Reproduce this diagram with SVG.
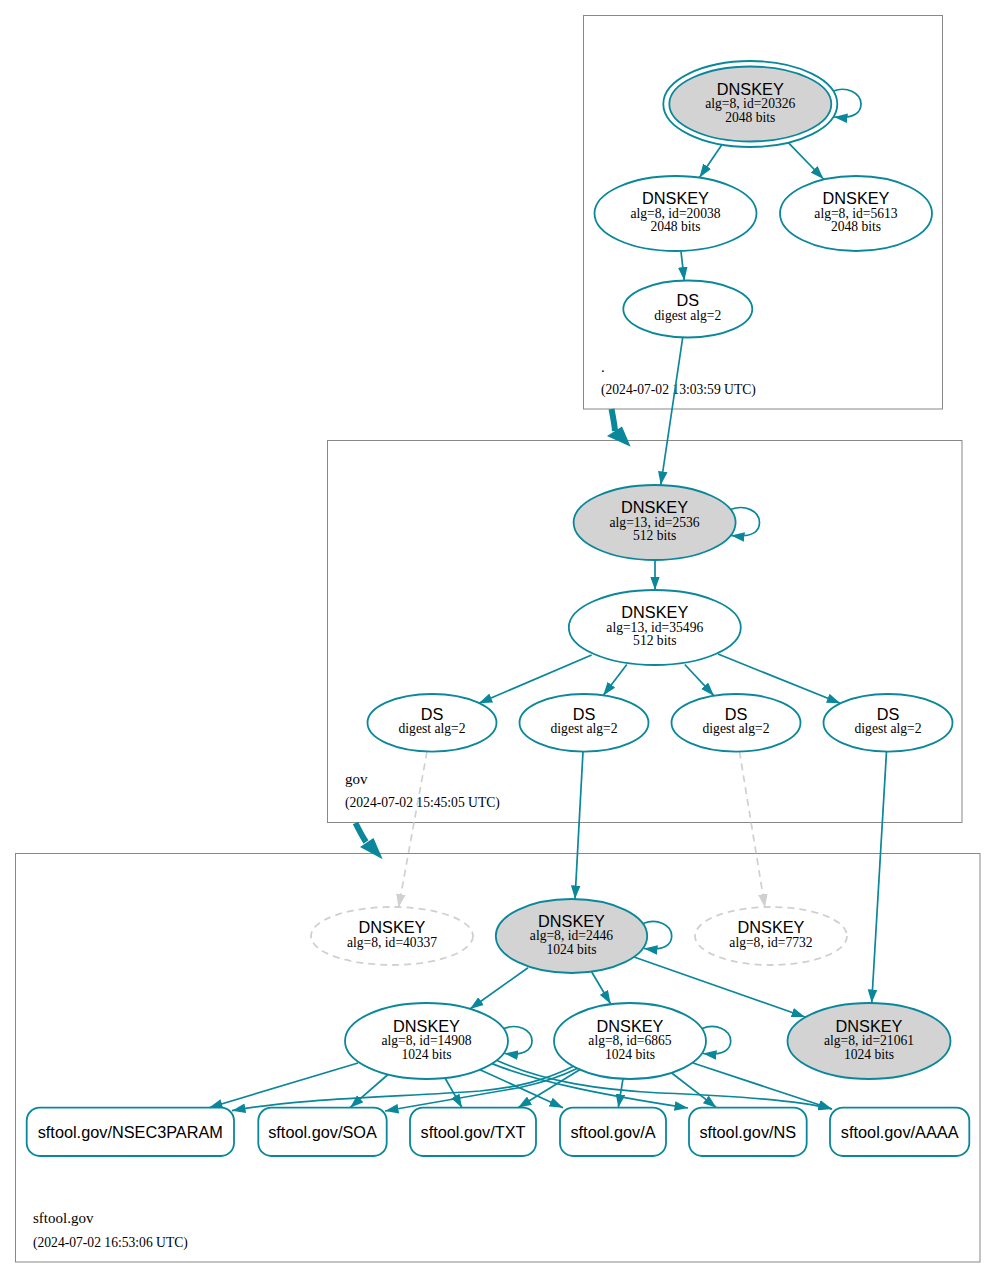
<svg xmlns="http://www.w3.org/2000/svg" width="996" height="1278" viewBox="0 0 996 1278">
<style>
.cl{fill:none;stroke:#888;stroke-width:1}
.n{fill:#fff;stroke:#0a879a;stroke-width:1.8}
.g{fill:#d3d3d3;stroke:#0a879a;stroke-width:1.8}
.d{fill:none;stroke:#d0d0d0;stroke-width:1.8;stroke-dasharray:7,5}
.e{fill:none;stroke:#0a879a;stroke-width:1.7;marker-end:url(#a)}
.ed{fill:none;stroke:#d0d0d0;stroke-width:1.7;stroke-dasharray:7,5;marker-end:url(#ag)}
.big{fill:none;stroke:#0a879a;stroke-width:6}
.t1{font-family:"Liberation Sans",Arial,sans-serif;font-size:16.3px;text-anchor:middle;fill:#000}
.t2{font-family:"Liberation Serif","Times New Roman",serif;font-size:13.6px;text-anchor:middle;fill:#000}
.cn{font-family:"Liberation Serif","Times New Roman",serif;font-size:15px;fill:#000}
.ct{font-family:"Liberation Serif","Times New Roman",serif;font-size:13.6px;fill:#000}
</style>
<defs>
<marker id="a" markerUnits="userSpaceOnUse" markerWidth="14" markerHeight="10" viewBox="0 0 14 10" refX="13.5" refY="5" orient="auto"><path d="M0,0.2 L13.5,5 L0,9.8 z" fill="#0a879a"/></marker>
<marker id="ag" markerUnits="userSpaceOnUse" markerWidth="14" markerHeight="10" viewBox="0 0 14 10" refX="13.5" refY="5" orient="auto"><path d="M0,0.2 L13.5,5 L0,9.8 z" fill="#d0d0d0"/></marker>
</defs>
<rect width="996" height="1278" fill="#fff"/>

<g id="cluster-root">
<rect class="cl" x="583.5" y="15.5" width="359" height="393.5"/>
<text class="cn" x="601" y="372">.</text>
<text class="ct" x="601" y="394">(2024-07-02 13:03:59 UTC)</text>
</g>
<g id="cluster-gov">
<rect class="cl" x="327.5" y="440.5" width="634.5" height="382"/>
<text class="cn" x="345" y="784">gov</text>
<text class="ct" x="345" y="807">(2024-07-02 15:45:05 UTC)</text>
</g>
<g id="cluster-sftool">
<rect class="cl" x="15.5" y="853.5" width="964.5" height="408.5"/>
<text class="cn" x="33" y="1223">sftool.gov</text>
<text class="ct" x="33" y="1247">(2024-07-02 16:53:06 UTC)</text>
</g>

<g id="connectors">
<path class="big" d="M611.5,409 C613,417 614.5,424 615,431"/>
<polygon points="607,436 622,426.5 630.7,446.7" fill="#0a879a"/>
<path class="big" d="M355.5,823 C359,830 362,836 366,842"/>
<polygon points="360,847 373.5,838 382.7,859.3" fill="#0a879a"/>

<path class="e" d="M721.7,145 L699.5,177.5"/>
<path class="e" d="M788.3,142.7 L823.5,179"/>
<path class="e" d="M681,251.5 L684.3,280.5"/>
<path class="e" d="M833.2,91 C847,86 861,93 861,104 C861,112 855,119 834,117"/>
<path class="e" d="M682.7,337.5 L660.8,485"/>

<path class="e" d="M655,560 L655,590"/>
<path class="e" d="M730.5,509.5 C745,504 759.5,511 759.5,522.5 C759.5,531 753,538 731,535.5"/>
<path class="e" d="M591.6,655 L478.8,703.3"/>
<path class="e" d="M626.8,664.5 L603.2,695.5"/>
<path class="e" d="M684.8,664.5 L713.9,695.7"/>
<path class="e" d="M718,654 L840.3,703.3"/>

<path class="ed" d="M427,751.6 L398.5,907.5"/>
<path class="e" d="M583,751.6 L575,899"/>
<path class="ed" d="M739.5,751.6 L765,907.5"/>
<path class="e" d="M886.5,751.6 L871.7,1003"/>

<path class="e" d="M643.3,923.5 C657,918 671.7,925 671.7,936 C671.7,944 665,951 644,948.5"/>
<path class="e" d="M528,967.7 L470,1009"/>
<path class="e" d="M591.7,972 L610.7,1004"/>
<path class="e" d="M634,957 L805,1017"/>
<path class="e" d="M503.8,1028.5 C518,1023 532,1030 532,1041 C532,1049 525,1056 504.5,1053.5"/>
<path class="e" d="M702.1,1028.5 C716,1023 730.7,1030 730.7,1041 C730.7,1049 724,1056 703,1053.5"/>

<path class="e" d="M358,1063 L209,1107.7"/>
<path class="e" d="M388,1074.5 L350,1107.7"/>
<path class="e" d="M445,1078 L462,1107.7"/>
<path class="e" d="M480,1069.7 L563,1107.7"/>
<path class="e" d="M492,1063.6 C540,1083 610,1096 688,1108"/>
<path class="e" d="M497,1060.5 C545,1082 600,1090 660,1093 C740,1096 800,1101 832,1109"/>
<path class="e" d="M623,1078.7 L618.3,1107.7"/>
<path class="e" d="M671.7,1073 L716.5,1107.7"/>
<path class="e" d="M693,1063 L832,1109"/>
<path class="e" d="M580,1069.5 L518,1107.7"/>
<path class="e" d="M577,1068.5 C560,1077 545,1082 520,1087.5 L385,1111"/>
<path class="e" d="M573,1066.5 C545,1080 520,1087 480,1091 C400,1097 300,1098 232,1110.7"/>
</g>

<g id="dnskey-20326">
<ellipse cx="750.3" cy="104" rx="87" ry="43" fill="none" stroke="#0a879a" stroke-width="1.8"/>
<ellipse class="g" cx="750.3" cy="104" rx="81" ry="37.5"/>
<text class="t1" x="750.3" y="94.5">DNSKEY</text>
<text class="t2" x="750.3" y="108">alg=8, id=20326</text>
<text class="t2" x="750.3" y="121.5">2048 bits</text>
</g>
<g id="dnskey-20038">
<ellipse class="n" cx="675.5" cy="213.5" rx="81" ry="37.5"/>
<text class="t1" x="675.5" y="204">DNSKEY</text>
<text class="t2" x="675.5" y="217.5">alg=8, id=20038</text>
<text class="t2" x="675.5" y="231">2048 bits</text>
</g>
<g id="dnskey-5613">
<ellipse class="n" cx="856" cy="213.5" rx="76" ry="37.5"/>
<text class="t1" x="856" y="204">DNSKEY</text>
<text class="t2" x="856" y="217.5">alg=8, id=5613</text>
<text class="t2" x="856" y="231">2048 bits</text>
</g>
<g id="ds-root">
<ellipse class="n" cx="687.8" cy="309" rx="64.5" ry="28.5"/>
<text class="t1" x="687.8" y="306">DS</text>
<text class="t2" x="687.8" y="319.5">digest alg=2</text>
</g>

<g id="dnskey-2536">
<ellipse class="g" cx="654.6" cy="522.5" rx="81" ry="37.5"/>
<text class="t1" x="654.6" y="513">DNSKEY</text>
<text class="t2" x="654.6" y="526.5">alg=13, id=2536</text>
<text class="t2" x="654.6" y="540">512 bits</text>
</g>
<g id="dnskey-35496">
<ellipse class="n" cx="654.8" cy="627.5" rx="86" ry="37.5"/>
<text class="t1" x="654.8" y="618">DNSKEY</text>
<text class="t2" x="654.8" y="631.5">alg=13, id=35496</text>
<text class="t2" x="654.8" y="645">512 bits</text>
</g>
<g id="ds-gov-1">
<ellipse class="n" cx="432" cy="722.8" rx="64.5" ry="28.8"/>
<text class="t1" x="432" y="720">DS</text>
<text class="t2" x="432" y="733">digest alg=2</text>
</g>
<g id="ds-gov-2">
<ellipse class="n" cx="584" cy="722.8" rx="64.5" ry="28.8"/>
<text class="t1" x="584" y="720">DS</text>
<text class="t2" x="584" y="733">digest alg=2</text>
</g>
<g id="ds-gov-3">
<ellipse class="n" cx="736" cy="722.8" rx="64.5" ry="28.8"/>
<text class="t1" x="736" y="720">DS</text>
<text class="t2" x="736" y="733">digest alg=2</text>
</g>
<g id="ds-gov-4">
<ellipse class="n" cx="888" cy="722.8" rx="64.5" ry="28.8"/>
<text class="t1" x="888" y="720">DS</text>
<text class="t2" x="888" y="733">digest alg=2</text>
</g>

<g id="dnskey-40337">
<ellipse class="d" cx="392" cy="936" rx="81" ry="29"/>
<text class="t1" x="392" y="933">DNSKEY</text>
<text class="t2" x="392" y="946.5">alg=8, id=40337</text>
</g>
<g id="dnskey-2446">
<ellipse class="g" cx="571.5" cy="936" rx="75.7" ry="37"/>
<text class="t1" x="571.5" y="926.5">DNSKEY</text>
<text class="t2" x="571.5" y="940">alg=8, id=2446</text>
<text class="t2" x="571.5" y="953.5">1024 bits</text>
</g>
<g id="dnskey-7732">
<ellipse class="d" cx="771" cy="936" rx="76" ry="29"/>
<text class="t1" x="771" y="933">DNSKEY</text>
<text class="t2" x="771" y="946.5">alg=8, id=7732</text>
</g>
<g id="dnskey-14908">
<ellipse class="n" cx="426.5" cy="1041" rx="81.5" ry="38"/>
<text class="t1" x="426.5" y="1031.5">DNSKEY</text>
<text class="t2" x="426.5" y="1045">alg=8, id=14908</text>
<text class="t2" x="426.5" y="1058.5">1024 bits</text>
</g>
<g id="dnskey-6865">
<ellipse class="n" cx="630" cy="1041" rx="76" ry="38"/>
<text class="t1" x="630" y="1031.5">DNSKEY</text>
<text class="t2" x="630" y="1045">alg=8, id=6865</text>
<text class="t2" x="630" y="1058.5">1024 bits</text>
</g>
<g id="dnskey-21061">
<ellipse class="g" cx="869" cy="1041" rx="81.5" ry="38"/>
<text class="t1" x="869" y="1031.5">DNSKEY</text>
<text class="t2" x="869" y="1045">alg=8, id=21061</text>
<text class="t2" x="869" y="1058.5">1024 bits</text>
</g>

<g id="rr-nsec3param">
<rect class="n" x="26.7" y="1107.7" width="207.3" height="48.3" rx="13"/>
<text class="t1" x="130.3" y="1137.5">sftool.gov/NSEC3PARAM</text>
</g>
<g id="rr-soa">
<rect class="n" x="258.3" y="1107.7" width="128.4" height="48.3" rx="13"/>
<text class="t1" x="322.5" y="1137.5">sftool.gov/SOA</text>
</g>
<g id="rr-txt">
<rect class="n" x="410" y="1107.7" width="126" height="48.3" rx="13"/>
<text class="t1" x="473" y="1137.5">sftool.gov/TXT</text>
</g>
<g id="rr-a">
<rect class="n" x="560" y="1107.7" width="106" height="48.3" rx="13"/>
<text class="t1" x="613" y="1137.5">sftool.gov/A</text>
</g>
<g id="rr-ns">
<rect class="n" x="689" y="1107.7" width="117.7" height="48.3" rx="13"/>
<text class="t1" x="747.8" y="1137.5">sftool.gov/NS</text>
</g>
<g id="rr-aaaa">
<rect class="n" x="830" y="1107.7" width="139.3" height="48.3" rx="13"/>
<text class="t1" x="899.7" y="1137.5">sftool.gov/AAAA</text>
</g>
</svg>
